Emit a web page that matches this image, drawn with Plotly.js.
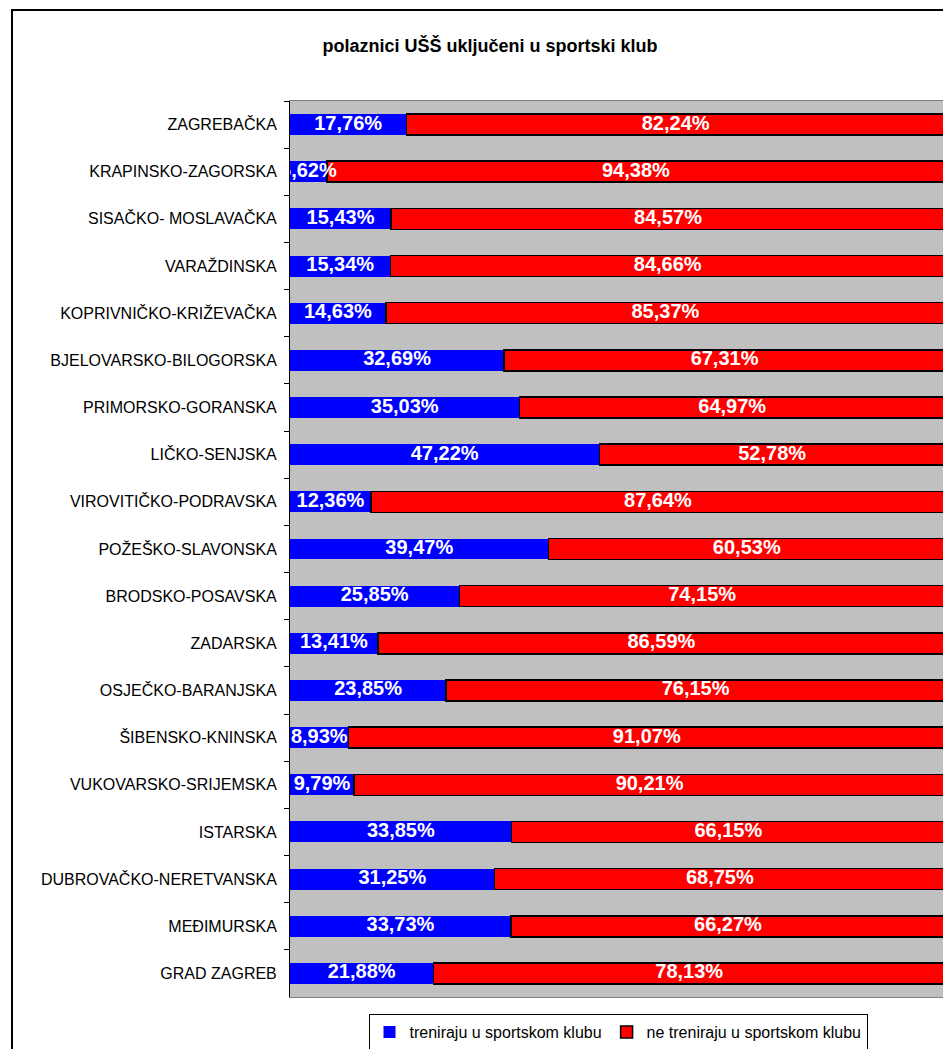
<!DOCTYPE html>
<html>
<head>
<meta charset="utf-8">
<script src="https://cdn.plot.ly/plotly-3.0.1.min.js"></script>
<style>
  html, body { margin: 0; padding: 0; background: #fff; overflow: hidden; }
  #chart { width: 1000px; height: 1080px; }
</style>
</head>
<body>
<div id="chart"></div>
<script>
var zupanije = [
    'ZAGREBAČKA', 'KRAPINSKO-ZAGORSKA', 'SISAČKO- MOSLAVAČKA', 'VARAŽDINSKA',
    'KOPRIVNIČKO-KRIŽEVAČKA', 'BJELOVARSKO-BILOGORSKA', 'PRIMORSKO-GORANSKA',
    'LIČKO-SENJSKA', 'VIROVITIČKO-PODRAVSKA', 'POŽEŠKO-SLAVONSKA',
    'BRODSKO-POSAVSKA', 'ZADARSKA', 'OSJEČKO-BARANJSKA', 'ŠIBENSKO-KNINSKA',
    'VUKOVARSKO-SRIJEMSKA', 'ISTARSKA', 'DUBROVAČKO-NERETVANSKA', 'MEĐIMURSKA',
    'GRAD ZAGREB'
];
var treniraju = [17.76, 5.62, 15.43, 15.34, 14.63, 32.69, 35.03, 47.22, 12.36, 39.47,
                 25.85, 13.41, 23.85, 8.93, 9.79, 33.85, 31.25, 33.73, 21.88];
var neTreniraju = [82.24, 94.38, 84.57, 84.66, 85.37, 67.31, 64.97, 52.78, 87.64, 60.53,
                   74.15, 86.59, 76.15, 91.07, 90.21, 66.15, 68.75, 66.27, 78.13];

function postotak(v) {
    return v.toFixed(2).replace('.', ',') + '%';
}

var font = 'Arial, "Liberation Sans", sans-serif';

// pixel geometry of the plot area
var W = 1000, H = 1080;
var L = 290, R = 945, T = 101, B = 997;
var pw = R - L, ph = B - T;

var trace1 = {
    type: 'bar',
    orientation: 'h',
    y: zupanije,
    x: treniraju,
    name: 'treniraju u sportskom klubu',
    marker: { color: '#0000FF', line: { width: 0 } },
    hoverinfo: 'skip'
};

var trace2 = {
    type: 'bar',
    orientation: 'h',
    y: zupanije,
    x: neTreniraju,
    name: 'ne treniraju u sportskom klubu',
    marker: { color: '#FF0000', line: { color: '#000000', width: 1.5 } },
    hoverinfo: 'skip'
};

// labels on top of the bars (so the small ones can spill over)
var labels1 = {
    type: 'scatter',
    mode: 'text',
    y: zupanije,
    x: treniraju.map(function (v) { return v / 2; }),
    text: treniraju.map(postotak),
    textfont: { family: font, size: 20, color: '#FFFFFF', weight: 'bold' },
    showlegend: false,
    hoverinfo: 'skip',
    cliponaxis: true
};

var labels2 = {
    type: 'scatter',
    mode: 'text',
    y: zupanije,
    x: neTreniraju.map(function (v, i) { return treniraju[i] + v / 2; }),
    text: neTreniraju.map(postotak),
    textfont: { family: font, size: 20, color: '#FFFFFF', weight: 'bold' },
    showlegend: false,
    hoverinfo: 'skip',
    cliponaxis: true
};

var layout = {
    width: W,
    height: H,
    barmode: 'stack',
    bargap: 0.555,
    paper_bgcolor: '#FFFFFF',
    plot_bgcolor: '#C0C0C0',
    margin: { l: L, r: W - R, t: T, b: H - B, pad: 0 },
    font: { family: font, color: '#000000' },
    title: {
        text: 'polaznici UŠŠ uključeni u sportski klub',
        font: { family: font, size: 18, weight: 'bold', color: '#000000' },
        xref: 'container', x: 490 / W, xanchor: 'center',
        yref: 'container', y: 1 - 46 / H, yanchor: 'middle'
    },
    xaxis: {
        range: [0, 100],
        showgrid: false,
        zeroline: false,
        showticklabels: false,
        ticks: '',
        showline: true,
        linecolor: '#808080',
        linewidth: 1,
        mirror: true,
        fixedrange: true
    },
    yaxis: {
        type: 'category',
        range: [zupanije.length - 0.5, -0.5],
        autorange: false,
        showgrid: false,
        zeroline: false,
        showline: true,
        linecolor: '#000000',
        linewidth: 1,
        ticks: 'outside',
        tickson: 'boundaries',
        ticklen: 5,
        tickwidth: 1,
        tickcolor: '#000000',
        ticklabelstandoff: 9,
        tickfont: { family: font, size: 16, color: '#000000' },
        fixedrange: true
    },
    showlegend: true,
    legend: {
        orientation: 'h',
        xref: 'paper', x: (618 - L) / pw, xanchor: 'center',
        yref: 'paper', y: (B - 1014) / ph, yanchor: 'top',
        bordercolor: '#000000',
        borderwidth: 1,
        bgcolor: '#FFFFFF',
        font: { family: font, size: 16, color: '#000000' },
        traceorder: 'normal'
    },
    shapes: [{
        // outer chart frame
        type: 'rect',
        xref: 'paper', yref: 'paper',
        x0: (12 - L) / pw, x1: (990 - L) / pw,
        y0: (B - 1070) / ph, y1: (B - 10) / ph,
        line: { color: '#000000', width: 2 },
        fillcolor: 'rgba(0,0,0,0)',
        layer: 'above'
    }]
};

Plotly.newPlot('chart', [trace1, trace2, labels1, labels2], layout, {
    displayModeBar: false,
    staticPlot: true
});
</script>
</body>
</html>
